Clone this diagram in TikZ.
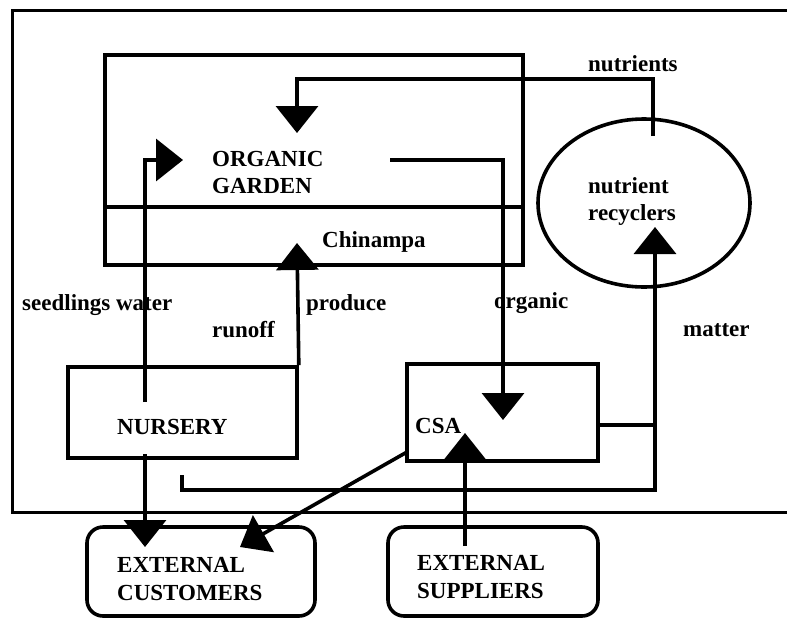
\documentclass[tikz,border=0pt]{standalone}
\usepackage{fontspec}
\setmainfont{Liberation Serif}
\usetikzlibrary{arrows.meta,shapes.geometric}
\begin{document}
\begin{tikzpicture}[x=1pt,y=-1pt,
  box/.style={draw, line width=3.6pt, inner sep=0pt},
  ext/.style={box, rounded corners=16pt},
  lbl/.style={font=\bfseries\fontsize{23}{27}\selectfont, inner sep=0pt, anchor=base west},
  flow/.style={line width=3.6pt, -{Triangle[width=42pt,length=27pt]}},
  plain/.style={line width=3.6pt},
  frame/.style={line width=3pt}]
\useasboundingbox (0,0) rectangle (787,619);
% outer frame (open on the right)
\draw[frame] (787,10) -- (12,10) -- (12,512) -- (787,512);
% boxes
\node[box, minimum width=418pt, minimum height=210pt] (garden) at (314,160) {};
\draw[plain] (garden.west |- 0,207) -- (garden.east |- 0,207);
\node[box, minimum width=229pt, minimum height=91pt] (nursery) at (182.5,412.5) {};
\node[box, minimum width=191pt, minimum height=97pt] (csa) at (502.5,412.5) {};
\node[draw, ellipse, line width=3.6pt, minimum width=212pt, minimum height=168pt, inner sep=0pt] (rec) at (644,203) {};
\node[ext, minimum width=228pt, minimum height=89pt] (cust) at (201,571.5) {};
\node[ext, minimum width=210pt, minimum height=89pt] (supp) at (493,571.5) {};
% labels
\node[lbl] (tOrg) at (212,166) {ORGANIC};
\node[lbl] (tGar) at (212,193) {GARDEN};
\node[lbl] (tChin) at (322,247) {Chinampa};
\node[lbl] (tNutr) at (588,71) {nutrients};
\node[lbl] (tRec1) at (588,193) {nutrient};
\node[lbl] (tRec2) at (588,220) {recyclers};
\node[lbl] (tSeed) at (22,310) {seedlings water};
\node[lbl] (tProd) at (306,310) {produce};
\node[lbl] (tRun) at (212,337) {runoff};
\node[lbl] (tOrgc) at (494,308) {organic};
\node[lbl] (tMat) at (683,336) {matter};
\node[lbl] (tNur) at (117,434) {NURSERY};
\node[lbl] (tCsa) at (415,433) {CSA};
\node[lbl] (tExt1) at (117,572) {EXTERNAL};
\node[lbl] (tCus) at (117,600) {CUSTOMERS};
\node[lbl] (tExt2) at (417,570) {EXTERNAL};
\node[lbl] (tSup) at (417,598) {SUPPLIERS};
% connector end points
\coordinate (nA) at (653,136);
\coordinate (nB) at (297,133);
\coordinate (sA) at (145,402);
\coordinate (sB) at (183,160);
\coordinate (oA) at (390,160);
\coordinate (oB) at (503,420);
\coordinate (pB) at (297,243);
\coordinate (ncA) at (145,454);
\coordinate (ncB) at (145,547);
\coordinate (dA) at (407,452);
\coordinate (dB) at (240,547);
\coordinate (fA) at (182,475);
\coordinate (fB) at (655,227);
\coordinate (cA) at (598,425);
\coordinate (suA) at (465,546);
\coordinate (suB) at (465,433);
% connectors
\draw[flow] (nA) |- (297,79) -- (nB);
\draw[flow] (sA) |- (sB);
\draw[flow] (oA) -| (oB);
\draw[flow] (nursery.north east) -- (pB);
\draw[flow] (ncA) -- (ncB);
\draw[flow] (dA) -- (dB);
\draw[flow] (fA) |- (655,490) -- (fB);
\draw[plain] (cA) -- (655,425);
\draw[flow] (suA) -- (suB);
\end{tikzpicture}
\end{document}
